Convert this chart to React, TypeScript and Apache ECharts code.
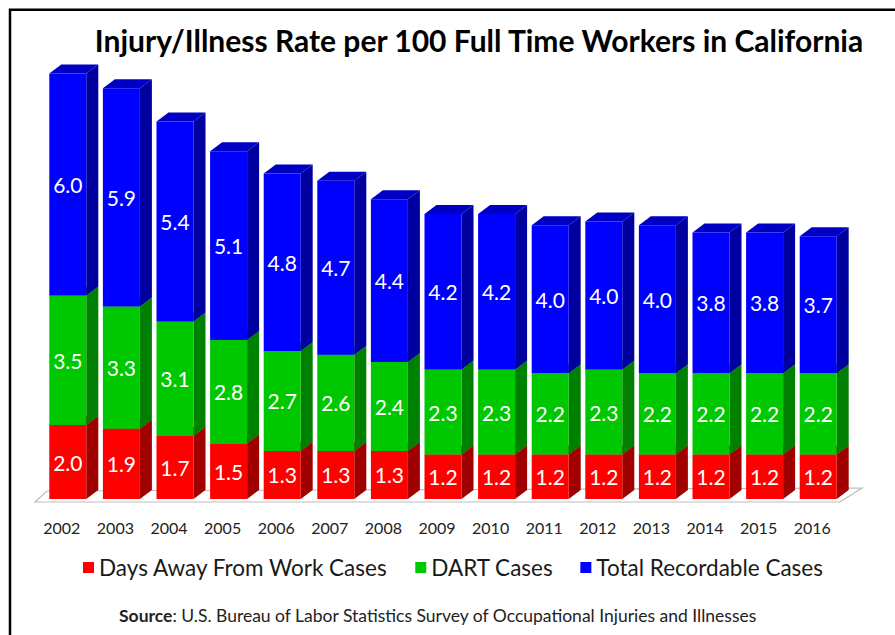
import React, { useEffect, useRef } from "react";
import * as echarts from "echarts";

const years = ["2002", "2003", "2004", "2005", "2006", "2007", "2008", "2009", "2010", "2011", "2012", "2013", "2014", "2015", "2016"];
const daysAway = [2.0, 1.9, 1.7, 1.5, 1.3, 1.3, 1.3, 1.2, 1.2, 1.2, 1.2, 1.2, 1.2, 1.2, 1.2];
const dart = [3.5, 3.3, 3.1, 2.8, 2.7, 2.6, 2.4, 2.3, 2.3, 2.2, 2.3, 2.2, 2.2, 2.2, 2.2];
const totalRecordable = [6.0, 5.9, 5.4, 5.1, 4.8, 4.7, 4.4, 4.2, 4.2, 4.0, 4.0, 4.0, 3.8, 3.8, 3.7];
const seriesNames = ["Days Away From Work Cases", "DART Cases", "Total Recordable Cases"];

const FRONT = ["#ff0000", "#00c800", "#0000ff"];
const SIDE = ["#a00000", "#008000", "#00009e"];
const TOP = ["#c80000", "#00a000", "#0000c4"];

const BAR_W = 37;
const DX = 12;
const DY = 9;
const SHIFT = 6;

function makeRender(k: number) {
  return (_params: any, api: any) => {
    const i = api.value(0);
    const base = api.value(1);
    const top = api.value(2);
    const val = api.value(3);
    const pb = api.coord([i, base]);
    const pt = api.coord([i, top]);
    const cx = pb[0] + SHIFT;
    const yb = pb[1];
    const yt = pt[1];
    const x0 = cx - BAR_W / 2;
    const x1 = x0 + BAR_W;
    return {
      type: "group",
      children: [
        {
          type: "polygon",
          shape: { points: [[x1, yb], [x1 + DX, yb - DY], [x1 + DX, yt - DY], [x1, yt]] },
          style: { fill: SIDE[k] },
        },
        {
          type: "polygon",
          shape: { points: [[x0, yt], [x1, yt], [x1 + DX, yt - DY], [x0 + DX, yt - DY]] },
          style: { fill: TOP[k] },
        },
        {
          type: "rect",
          shape: { x: x0, y: yt, width: BAR_W, height: yb - yt },
          style: { fill: FRONT[k] },
        },
        {
          type: "text",
          style: {
            text: Number(val).toFixed(1),
            x: cx,
            y: (yt + yb) / 2,
            fill: "#ffffff",
            fontSize: 21,
            fontFamily: "Lato",
            align: "center",
            verticalAlign: "middle",
          },
        },
      ],
    };
  };
}

export default function App() {
  const ref = useRef<HTMLDivElement>(null);
  useEffect(() => {
    if (!ref.current) return;
    const chart = echarts.init(ref.current, null, { renderer: "svg" });
    const layers = [daysAway, dart, totalRecordable];
    const series = layers.map((arr, k) => {
      const data = arr.map((v, i) => {
        let base = 0;
        for (let j = 0; j < k; j++) base += layers[j][i];
        return [i, base, base + v, v];
      });
      return {
        type: "custom",
        name: seriesNames[k],
        renderItem: makeRender(k),
        itemStyle: { color: FRONT[k] },
        encode: { x: 0, y: [1, 2] },
        data,
        z: 2 + k,
      };
    });
    chart.setOption({
      animation: false,
      backgroundColor: "#ffffff",
      title: {
        text: "Injury/Illness Rate per 100 Full Time Workers in California",
        left: 474,
        top: 20,
        textAlign: "center",
        textStyle: { fontFamily: "Lato", fontWeight: "bold", fontSize: 30, color: "#000" },
      },
      legend: {
        data: seriesNames,
        top: 551,
        left: 78,
        icon: "rect",
        itemWidth: 11,
        itemHeight: 11,
        itemGap: 27,
        textStyle: { fontFamily: "Lato", fontSize: 22.5, color: "#1a1a1a" },
      },
      grid: { left: 35, right: 56, top: 55, bottom: 136 },
      xAxis: {
        type: "category",
        data: years,
        axisLine: { show: false },
        axisTick: { show: false },
        axisLabel: { margin: 20, fontFamily: "Lato", fontSize: 16, color: "#222" },
      },
      yAxis: { type: "value", min: 0, max: 12, show: false, splitLine: { show: false } },
      graphic: [
        {
          type: "polygon",
          z: 0,
          shape: { points: [[35, 502], [840, 502], [862, 488], [47, 491]] },
          style: { fill: "#ffffff", stroke: "#bdbdbd", lineWidth: 1.2 },
        },
        {
          type: "rect",
          z: 0,
          shape: { x: 10, y: 9.7, width: 2000, height: 2000 },
          style: { fill: "none", stroke: "#000", lineWidth: 2.5 },
        },
        {
          type: "text",
          left: 119,
          top: 606,
          style: {
            text: "{b|Source}: U.S. Bureau of Labor Statistics Survey of Occupational Injuries and Illnesses",
            fontFamily: "Lato",
            fontSize: 17.5,
            fill: "#222",
            rich: {
              b: { fontFamily: "Lato", fontWeight: "bold", fontSize: 17.5, fill: "#222" },
            },
          },
        },
      ],
      series,
    });
    return () => chart.dispose();
  }, []);
  return (
    <div style={{ position: "fixed", left: 0, top: 0, width: 895, height: 635 }}>
      <div ref={ref} style={{ width: 895, height: 635 }} />
    </div>
  );
}
